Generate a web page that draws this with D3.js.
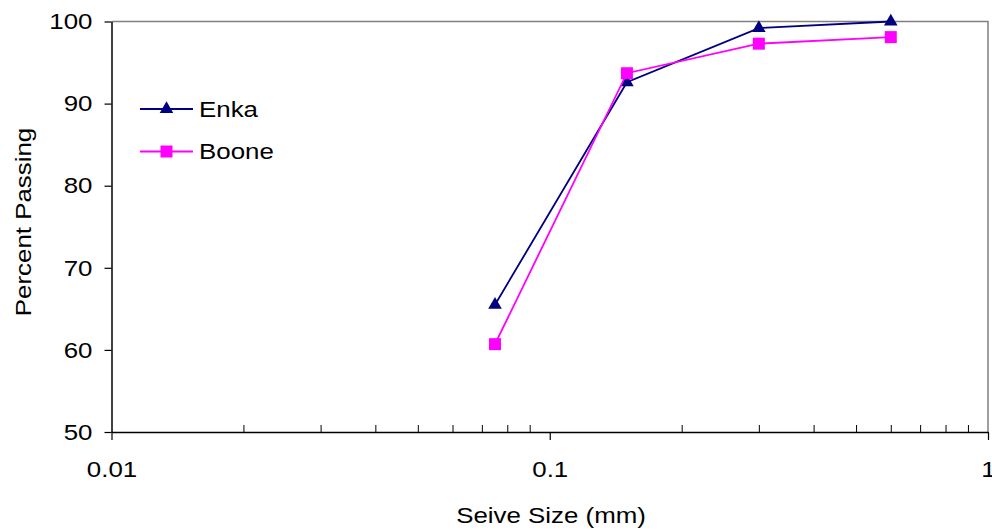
<!DOCTYPE html>
<html>
<head>
<meta charset="utf-8">
<script src="https://cdn.jsdelivr.net/npm/d3@7"></script>
<style>
  html, body { margin: 0; padding: 0; background: #fff; }
  svg { display: block; font-family: "Liberation Sans", Arial, sans-serif; }
</style>
</head>
<body>
<svg id="chart" width="992" height="531"></svg>
<script>
// Sieve sizes (mm) and percent passing for each sand
const sieveSizes = [0.075, 0.15, 0.3, 0.6];
const enkaPassing = [65.5, 92.6, 99.2, 100];
const boonePassing = [60.7, 93.7, 97.3, 98.1];
const seriesNames = ["Enka", "Boone"];
const seriesColors = ["#000080", "#FF00FF"];

const xMajorTicks = [0.01, 0.1, 1];
const xMinorTicks = [0.02, 0.03, 0.04, 0.05, 0.06, 0.07, 0.08, 0.09,
                     0.2, 0.3, 0.4, 0.5, 0.6, 0.7, 0.8, 0.9];
const yTicks = [50, 60, 70, 80, 90, 100];

const FONT = 22.5;
const STRETCH = "scale(1.15,1)";

const svg = d3.select("#chart");
const plot = { left: 111.5, right: 988, top: 21.5, bottom: 432 };

const x = d3.scaleLog().domain([0.01, 1]).range([plot.left, plot.right]);
const y = d3.scaleLinear().domain([50, 100]).range([plot.bottom, plot.top]);

// top and right frame (grey)
svg.append("path")
  .attr("d", `M${plot.left},${plot.top}H${plot.right}V${plot.bottom}`)
  .attr("fill", "none").attr("stroke", "#808080").attr("stroke-width", 1.5);

// Y axis
const yAxis = svg.append("g")
  .attr("transform", `translate(${plot.left},0)`)
  .call(d3.axisLeft(y).tickValues(yTicks).tickSize(7).tickSizeOuter(0).tickFormat(d3.format("d")));
yAxis.select(".domain").attr("stroke", "#000").attr("stroke-width", 1.5);
yAxis.selectAll(".tick line").attr("stroke", "#000").attr("stroke-width", 1.2);
yAxis.selectAll(".tick text")
  .attr("x", 0)
  .attr("transform", `translate(-19,0) ${STRETCH}`)
  .attr("font-size", FONT).attr("fill", "#000")
  .attr("font-family", "Liberation Sans, Arial, sans-serif");

// X axis: major ticks downward with labels
const xAxis = svg.append("g")
  .attr("transform", `translate(0,${plot.bottom})`)
  .call(d3.axisBottom(x).tickValues(xMajorTicks).tickSize(8).tickSizeOuter(0)
    .tickFormat(d => String(d)));
xAxis.select(".domain").attr("stroke", "#000").attr("stroke-width", 1.5);
xAxis.selectAll(".tick line").attr("stroke", "#000").attr("stroke-width", 1.2);
xAxis.selectAll(".tick text")
  .attr("y", 0).attr("dy", 0)
  .attr("transform", `translate(0,45) ${STRETCH}`)
  .attr("font-size", FONT).attr("fill", "#000")
  .attr("font-family", "Liberation Sans, Arial, sans-serif");

// X axis: minor ticks pointing into the plot
const xMinor = svg.append("g")
  .attr("transform", `translate(0,${plot.bottom})`)
  .call(d3.axisTop(x).tickValues(xMinorTicks).tickSize(7).tickSizeOuter(0).tickFormat(""));
xMinor.select(".domain").remove();
xMinor.selectAll(".tick line").attr("stroke", "#000").attr("stroke-width", 1);

// Axis titles
svg.append("text")
  .attr("transform", `translate(551,523) ${STRETCH}`)
  .attr("text-anchor", "middle").attr("font-size", FONT).attr("fill", "#000")
  .text("Seive Size (mm)");
svg.append("text")
  .attr("transform", `translate(31,222) rotate(-90) ${STRETCH}`)
  .attr("text-anchor", "middle").attr("font-size", FONT).attr("fill", "#000")
  .text("Percent Passing");

// Series
const series = [
  { name: seriesNames[0], color: seriesColors[0], values: enkaPassing, symbol: d3.symbolTriangle, size: 80 },
  { name: seriesNames[1], color: seriesColors[1], values: boonePassing, symbol: d3.symbolSquare, size: 144 }
];

const line = d3.line().x(d => x(d[0])).y(d => y(d[1]));

series.forEach(s => {
  const pts = sieveSizes.map((v, i) => [v, s.values[i]]);
  svg.append("path")
    .datum(pts)
    .attr("d", line)
    .attr("fill", "none").attr("stroke", s.color).attr("stroke-width", 1.8);
  svg.append("g").selectAll("path")
    .data(pts).join("path")
    .attr("transform", d => `translate(${x(d[0])},${y(d[1])})`)
    .attr("d", d3.symbol().type(s.symbol).size(s.size))
    .attr("fill", s.color);
});

// Legend
const legend = svg.append("g");
series.forEach((s, i) => {
  const ly = 109 + i * 42.5;
  legend.append("line")
    .attr("x1", 140).attr("x2", 193).attr("y1", ly).attr("y2", ly)
    .attr("stroke", s.color).attr("stroke-width", 1.8);
  legend.append("path")
    .attr("transform", `translate(166.5,${ly})`)
    .attr("d", d3.symbol().type(s.symbol).size(s.size))
    .attr("fill", s.color);
  legend.append("text")
    .attr("transform", `translate(199,${ly + 7.5}) ${STRETCH}`)
    .attr("font-size", FONT).attr("fill", "#000")
    .text(s.name);
});
</script>
</body>
</html>
